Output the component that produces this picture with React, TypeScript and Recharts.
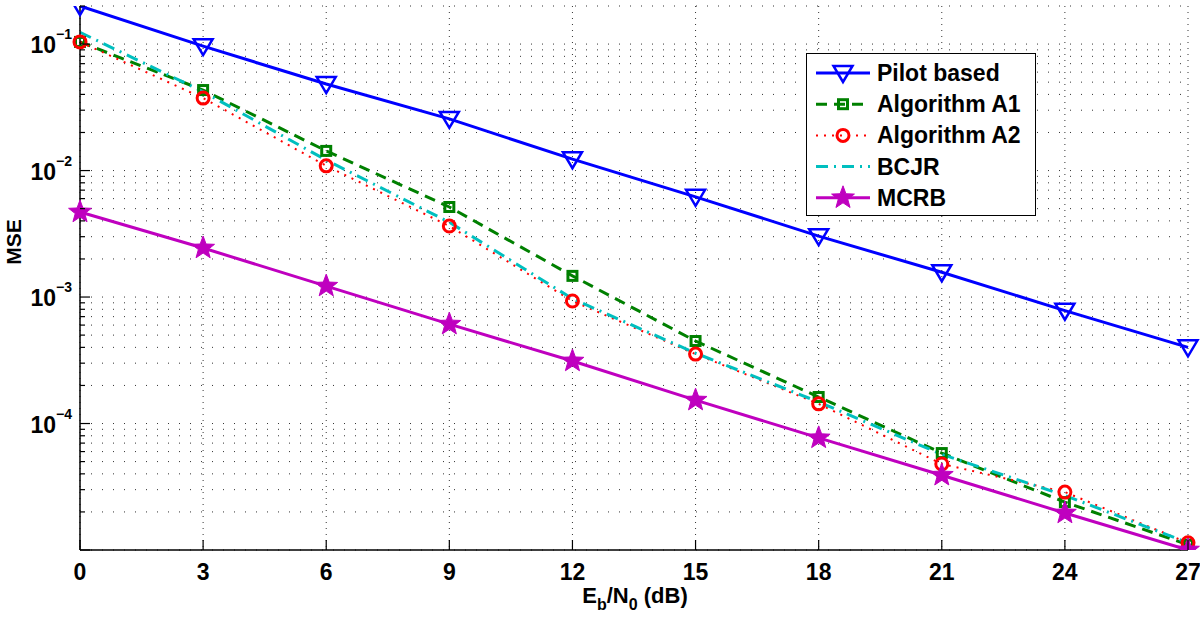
import React from "react";
import {
  LineChart,
  Line,
  XAxis,
  YAxis,
  CartesianGrid,
  Legend,
} from "recharts";

// ---------- data ----------
const EBN0 = [0, 3, 6, 9, 12, 15, 18, 21, 24, 27];
const PILOT = [0.2, 0.0963, 0.0483, 0.0256, 0.0123, 0.0062, 0.00303, 0.00157, 0.00078, 0.0004];
const ALG_A1 = [0.104, 0.0433, 0.0143, 0.00515, 0.00147, 0.000449, 0.000162, 5.84e-5, 2.39e-5, 1.1e-5];
const ALG_A2 = [0.104, 0.0374, 0.0109, 0.00364, 0.00093, 0.000354, 0.000143, 4.79e-5, 2.87e-5, 1.14e-5];
const BCJR = [0.124, 0.042, 0.0121, 0.0039, 0.00097, 0.00036, 0.000148, 5.7e-5, 2.7e-5, 1.14e-5];
const MCRB = [0.0047, 0.00244, 0.00122, 0.00061, 0.000312, 0.000153, 7.7e-5, 3.9e-5, 1.96e-5, 1.0e-5];

const X_TICKS = [0, 3, 6, 9, 12, 15, 18, 21, 24, 27];
const Y_DOMAIN: [number, number] = [1e-5, 0.2];
const Y_LABELED_EXPONENTS = [-1, -2, -3, -4];

const Y_TICKS: number[] = (() => {
  const out: number[] = [];
  for (let d = -5; d <= -1; d++) {
    for (let m = 1; m <= 9; m++) {
      const v = Number((m * Math.pow(10, d)).toPrecision(3));
      if (v <= Y_DOMAIN[1] * 1.0001) out.push(v);
    }
  }
  return out;
})();

const data = EBN0.map((x, i) => ({
  x,
  pilot: PILOT[i],
  a1: ALG_A1[i],
  a2: ALG_A2[i],
  bcjr: BCJR[i],
  mcrb: MCRB[i],
}));

const FONT = "'Liberation Sans', Arial, Helvetica, sans-serif";

type Marker = "tri" | "square" | "circle" | "star" | "none";

const SERIES: {
  key: string;
  name: string;
  color: string;
  dash?: string;
  width: number;
  marker: Marker;
}[] = [
  { key: "pilot", name: "Pilot based", color: "#0000ff", width: 3, marker: "tri" },
  { key: "a1", name: "Algorithm A1", color: "#008000", dash: "11 7", width: 3, marker: "square" },
  { key: "a2", name: "Algorithm A2", color: "#ff0000", dash: "2 6", width: 2, marker: "circle" },
  { key: "bcjr", name: "BCJR", color: "#00bfbf", dash: "12 6 2 6", width: 3, marker: "none" },
  { key: "mcrb", name: "MCRB", color: "#bf00bf", width: 3, marker: "star" },
];

function starPath(cx: number, cy: number, ro: number, ri: number) {
  let d = "";
  for (let i = 0; i < 10; i++) {
    const r = i % 2 === 0 ? ro : ri;
    const a = -Math.PI / 2 + (i * Math.PI) / 5;
    d += (i === 0 ? "M" : "L") + (cx + r * Math.cos(a)).toFixed(2) + "," + (cy + r * Math.sin(a)).toFixed(2);
  }
  return d + "Z";
}

function MarkerShape({ type, cx, cy, color }: { type: Marker; cx: number; cy: number; color: string }) {
  if (cx == null || cy == null || isNaN(cx) || isNaN(cy)) return null;
  switch (type) {
    case "tri":
      return (
        <path
          d={`M${cx - 9.5},${cy - 7} L${cx + 9.5},${cy - 7} L${cx},${cy + 9} Z`}
          fill="none"
          stroke={color}
          strokeWidth={2.5}
        />
      );
    case "square":
      return <rect x={cx - 4.5} y={cy - 4.5} width={9} height={9} fill="none" stroke={color} strokeWidth={3} />;
    case "circle":
      return <circle cx={cx} cy={cy} r={6} fill="none" stroke={color} strokeWidth={3} />;
    case "star":
      return <path d={starPath(cx, cy, 12, 5)} fill={color} stroke={color} strokeWidth={1} />;
    default:
      return null;
  }
}

const makeDot = (type: Marker, color: string) => (props: any) => (
  <MarkerShape key={`${type}-${props.index}`} type={type} cx={props.cx} cy={props.cy} color={color} />
);

// ---------- ticks ----------
function isDecade(v: number) {
  const e = Math.round(Math.log10(v));
  return Math.abs(v - Math.pow(10, e)) / v < 1e-6;
}

const LeftYTick = (props: any) => {
  const { x, y, payload } = props;
  const v = payload.value as number;
  const major = isDecade(v);
  const e = Math.round(Math.log10(v));
  return (
    <g>
      <line x1={x} x2={x + (major ? 10 : 5)} y1={y} y2={y} stroke="#000" strokeWidth={1.2} />
      {major && Y_LABELED_EXPONENTS.includes(e) && (
        <text x={x - 8} y={y + 9} textAnchor="end" fontFamily={FONT} fontWeight="bold" fontSize={23} fill="#000">
          <tspan>10</tspan>
          <tspan dy={-14} fontSize={14}>{"\u2212" + Math.abs(e)}</tspan>
        </text>
      )}
    </g>
  );
};

const RightYTick = (props: any) => {
  const { x, y, payload } = props;
  const major = isDecade(payload.value);
  return <line x1={x} x2={x - (major ? 10 : 5)} y1={y} y2={y} stroke="#000" strokeWidth={1.2} />;
};

const BottomXTick = (props: any) => {
  const { x, y, payload } = props;
  return (
    <g>
      <line x1={x} x2={x} y1={y} y2={y - 10} stroke="#000" strokeWidth={1.2} />
      <text x={x} y={y + 30} textAnchor="middle" fontFamily={FONT} fontWeight="bold" fontSize={23} fill="#000">
        {payload.value}
      </text>
    </g>
  );
};

const TopXTick = (props: any) => {
  const { x, y } = props;
  return <line x1={x} x2={x} y1={y} y2={y + 10} stroke="#000" strokeWidth={1.2} />;
};

// ---------- legend ----------
const LegendBox = () => (
  <div
    style={{
      width: 230,
      height: 163,
      border: "1.5px solid #000",
      background: "#fff",
      boxSizing: "border-box",
    }}
  >
    <svg width={228} height={161} style={{ display: "block" }}>
      {SERIES.map((s, i) => {
        const cy = 19 + i * 31.2;
        return (
          <g key={s.key}>
            <line
              x1={9}
              x2={63}
              y1={cy}
              y2={cy}
              stroke={s.color}
              strokeWidth={s.width}
              strokeDasharray={s.dash}
            />
            <MarkerShape type={s.marker} cx={36} cy={cy} color={s.color} />
            <text x={70} y={cy + 8} fontFamily={FONT} fontWeight="bold" fontSize={23} fill="#000">
              {s.name}
            </text>
          </g>
        );
      })}
    </svg>
  </div>
);

export default function App() {
  return (
    <div style={{ position: "absolute", left: 0, top: 0, width: 1200, height: 618, background: "#fff" }}>
      <LineChart
        width={1200}
        height={618}
        data={data}
        margin={{ top: 6, right: 12, bottom: 28, left: 0 }}
      >
        <CartesianGrid stroke="#333" strokeDasharray="1 10" strokeWidth={1} vertical={false} />
        <CartesianGrid stroke="#333" strokeDasharray="1 5" strokeWidth={1} horizontal={false} />
        <XAxis
          dataKey="x"
          type="number"
          domain={[0, 27]}
          ticks={X_TICKS}
          interval={0}
          height={40}
          tickSize={0}
          tickMargin={0}
          tickLine={false}
          tick={<BottomXTick />}
          axisLine={{ stroke: "#000", strokeWidth: 1.5 }}
          label={{
            content: () => (
              <text x={635} y={603} textAnchor="middle" fontFamily={FONT} fontWeight="bold" fontSize={22} fill="#000">
                <tspan>E</tspan>
                <tspan dy={7} fontSize={16}>b</tspan>
                <tspan dy={-7}>/N</tspan>
                <tspan dy={7} fontSize={16}>0</tspan>
                <tspan dy={-7}> (dB)</tspan>
              </text>
            ),
          }}
        />
        <XAxis
          xAxisId="top"
          orientation="top"
          dataKey="x"
          type="number"
          domain={[0, 27]}
          ticks={X_TICKS}
          interval={0}
          height={0}
          tickSize={0}
          tickMargin={0}
          tickLine={false}
          tick={<TopXTick />}
          axisLine={{ stroke: "#000", strokeWidth: 1.5 }}
        />
        <YAxis
          type="number"
          scale="log"
          domain={Y_DOMAIN}
          allowDataOverflow
          ticks={Y_TICKS}
          interval={0}
          width={80}
          tickSize={0}
          tickMargin={0}
          tickLine={false}
          tick={<LeftYTick />}
          axisLine={{ stroke: "#000", strokeWidth: 1.5 }}
          label={{
            content: () => (
              <text
                x={21}
                y={242}
                transform="rotate(-90 21 242)"
                textAnchor="middle"
                fontFamily={FONT}
                fontWeight="bold"
                fontSize={21}
                fill="#000"
              >
                MSE
              </text>
            ),
          }}
        />
        <YAxis
          yAxisId="right"
          orientation="right"
          type="number"
          scale="log"
          domain={Y_DOMAIN}
          allowDataOverflow
          ticks={Y_TICKS}
          interval={0}
          width={0}
          tickSize={0}
          tickMargin={0}
          tickLine={false}
          tick={<RightYTick />}
          axisLine={{ stroke: "#000", strokeWidth: 1.5 }}
        />
        <Legend
          layout="vertical"
          align="center"
          verticalAlign="middle"
          content={() => <LegendBox />}
          wrapperStyle={{ position: "absolute", left: 806, top: 53, width: 230, height: 163 }}
        />
        {SERIES.map((s) => (
          <Line
            key={s.key}
            dataKey={s.key}
            name={s.name}
            type="linear"
            stroke={s.color}
            strokeWidth={s.width}
            strokeDasharray={s.dash}
            dot={s.marker === "none" ? false : makeDot(s.marker, s.color)}
            activeDot={false}
            isAnimationActive={false}
          />
        ))}
      </LineChart>
    </div>
  );
}
